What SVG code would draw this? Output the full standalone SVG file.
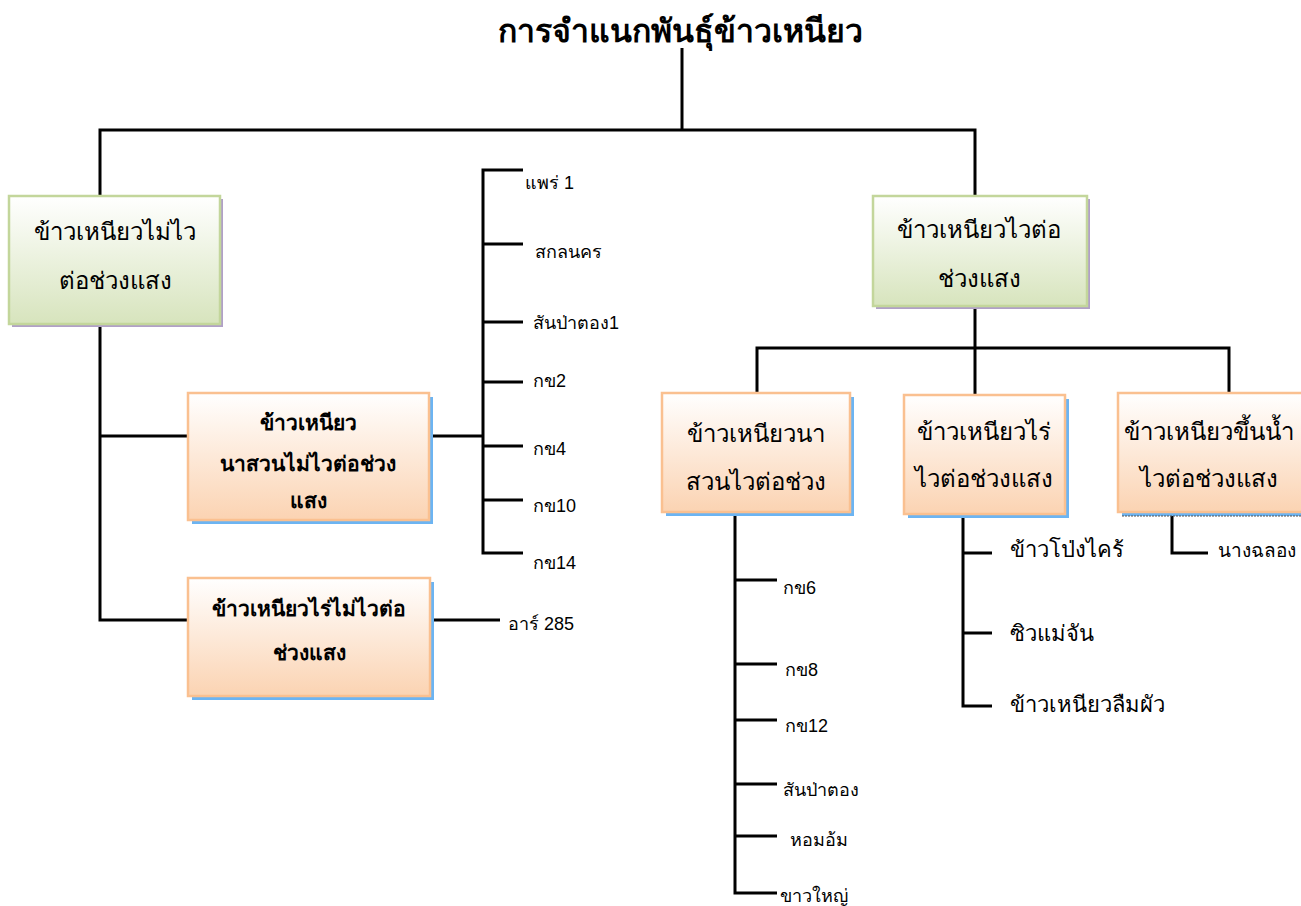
<svg xmlns="http://www.w3.org/2000/svg" width="1301" height="906" viewBox="0 0 1301 906">
  <defs>
    <linearGradient id="gGreen" x1="0" y1="0" x2="0" y2="1">
      <stop offset="0" stop-color="#ffffff"/>
      <stop offset="1" stop-color="#d7e4bd"/>
    </linearGradient>
    <linearGradient id="gOrange" x1="0" y1="0" x2="0" y2="1">
      <stop offset="0" stop-color="#ffffff"/>
      <stop offset="1" stop-color="#fbd3b2"/>
    </linearGradient>
  </defs>
  <style>
    .title { font-family: "Liberation Serif", serif; font-weight: bold; font-size: 32px; fill: #000; }
    .box-green { fill: url(#gGreen); stroke: #c3d69b; stroke-width: 2.5; }
    .shadow-green { fill: #b1a0c7; }
    .box-orange { fill: url(#gOrange); stroke: #fac090; stroke-width: 2.5; }
    .shadow-orange { fill: #6cb4f2; }
    .lbl { font-family: "Liberation Serif", serif; font-size: 24px; fill: #000; text-anchor: middle; }
    .lbl-b { font-family: "Liberation Serif", serif; font-size: 21px; font-weight: bold; fill: #000; text-anchor: middle; }
    .item { font-family: "Liberation Sans", sans-serif; font-size: 18px; fill: #000; }
    .item2 { font-family: "Liberation Serif", serif; font-size: 22px; fill: #000; }
    .wire { fill: none; stroke: #000; stroke-width: 3; }
  </style>

  <rect width="1301" height="906" fill="#ffffff"/>

  <!-- title -->
  <g id="title">
    <text class="title" x="680" y="42" text-anchor="middle">การจำแนกพันธุ์ข้าวเหนียว</text>
  </g>

  <!-- connectors -->
  <g id="connectors" class="wire">
    <path d="M682 48 V130"/>
    <path d="M100 196 V130 H975 V196"/>
    <!-- left branch -->
    <path d="M100 326 V620 H188"/>
    <path d="M100 436 H188"/>
    <path d="M429 436 H483"/>
    <path d="M523 170 H483 V553 H523"/>
    <path d="M483 244 H523 M483 322 H523 M483 382 H523 M483 446 H523 M483 500 H523"/>
    <path d="M430 620 H500"/>
    <!-- right branch -->
    <path d="M975 306 V348"/>
    <path d="M757 395 V348 H1229 V395"/>
    <path d="M975 348 V395"/>
    <path d="M777 513 H735 V893 H777"/>
    <path d="M735 580 H777 M735 664 H777 M735 720 H777 M735 784 H777 M735 836 H777"/>
    <path d="M963 514 V706 H992"/>
    <path d="M963 553 H992 M963 633 H992"/>
    <path d="M1172 514 V553 H1208"/>
  </g>

  <!-- level 1 -->
  <g id="node-nonsensitive">
    <rect class="shadow-green" x="12" y="199" width="211" height="128"/>
    <rect class="box-green" x="9" y="196" width="211" height="128"/>
    <text class="lbl" x="115" y="240">ข้าวเหนียวไม่ไว</text>
    <text class="lbl" x="115" y="289">ต่อช่วงแสง</text>
  </g>
  <g id="node-sensitive">
    <rect class="shadow-green" x="876" y="199" width="214" height="110"/>
    <rect class="box-green" x="873" y="196" width="214" height="110"/>
    <text class="lbl" x="979" y="238">ข้าวเหนียวไวต่อ</text>
    <text class="lbl" x="979" y="287">ช่วงแสง</text>
  </g>

  <!-- level 2, left -->
  <g id="node-lowland-nonsensitive">
    <rect class="shadow-orange" x="192" y="397" width="241" height="127"/>
    <rect class="box-orange" x="188" y="393" width="241" height="127"/>
    <text class="lbl-b" x="308" y="430">ข้าวเหนียว</text>
    <text class="lbl-b" x="308" y="471">นาสวนไม่ไวต่อช่วง</text>
    <text class="lbl-b" x="308" y="508">แสง</text>
  </g>
  <g id="node-upland-nonsensitive">
    <rect class="shadow-orange" x="192" y="582" width="242" height="118"/>
    <rect class="box-orange" x="188" y="578" width="242" height="118"/>
    <text class="lbl-b" x="309" y="616">ข้าวเหนียวไร่ไม่ไวต่อ</text>
    <text class="lbl-b" x="309" y="660">ช่วงแสง</text>
  </g>

  <!-- level 2, right -->
  <g id="node-lowland-sensitive">
    <rect class="shadow-orange" x="666" y="397" width="188" height="119"/>
    <rect class="box-orange" x="662" y="393" width="188" height="119"/>
    <text class="lbl" x="756" y="442">ข้าวเหนียวนา</text>
    <text class="lbl" x="756" y="490">สวนไวต่อช่วง</text>
  </g>
  <g id="node-upland-sensitive">
    <rect class="shadow-orange" x="908" y="399" width="161" height="119"/>
    <rect class="box-orange" x="904" y="395" width="161" height="119"/>
    <text class="lbl" x="984" y="440">ข้าวเหนียวไร่</text>
    <text class="lbl" x="984" y="487">ไวต่อช่วงแสง</text>
  </g>
  <g id="node-floating-sensitive">
    <rect class="shadow-orange" x="1122" y="397" width="190" height="119"/>
    <line x1="1122" y1="516" x2="1301" y2="516" stroke="#555" stroke-width="1" stroke-dasharray="2 1"/>
    <rect class="box-orange" x="1118" y="393" width="190" height="119"/>
    <text class="lbl" x="1209" y="440">ข้าวเหนียวขึ้นน้ำ</text>
    <text class="lbl" x="1209" y="487">ไวต่อช่วงแสง</text>
  </g>

  <!-- varieties -->
  <g id="list-lowland-nonsensitive" class="item">
    <text x="525" y="189">แพร่ 1</text>
    <text x="535" y="258">สกลนคร</text>
    <text x="533" y="329">สันป่าตอง1</text>
    <text x="533" y="387">กข2</text>
    <text x="533" y="455">กข4</text>
    <text x="533" y="512">กข10</text>
    <text x="533" y="569">กข14</text>
  </g>
  <g id="list-upland-nonsensitive" class="item">
    <text x="508" y="630">อาร์ 285</text>
  </g>
  <g id="list-lowland-sensitive" class="item">
    <text x="783" y="594">กข6</text>
    <text x="785" y="676">กข8</text>
    <text x="785" y="732">กข12</text>
    <text x="783" y="796">สันป่าตอง</text>
    <text x="790" y="846">หอมอ้ม</text>
    <text x="780" y="902">ขาวใหญ่</text>
  </g>
  <g id="list-upland-sensitive" class="item2">
    <text x="1010" y="557">ข้าวโป่งไคร้</text>
    <text x="1010" y="641">ซิวแม่จัน</text>
    <text x="1010" y="712">ข้าวเหนียวลืมผัว</text>
  </g>
  <g id="list-floating-sensitive" class="item2">
    <text x="1218" y="557" font-size="19">นางฉลอง</text>
  </g>
</svg>
